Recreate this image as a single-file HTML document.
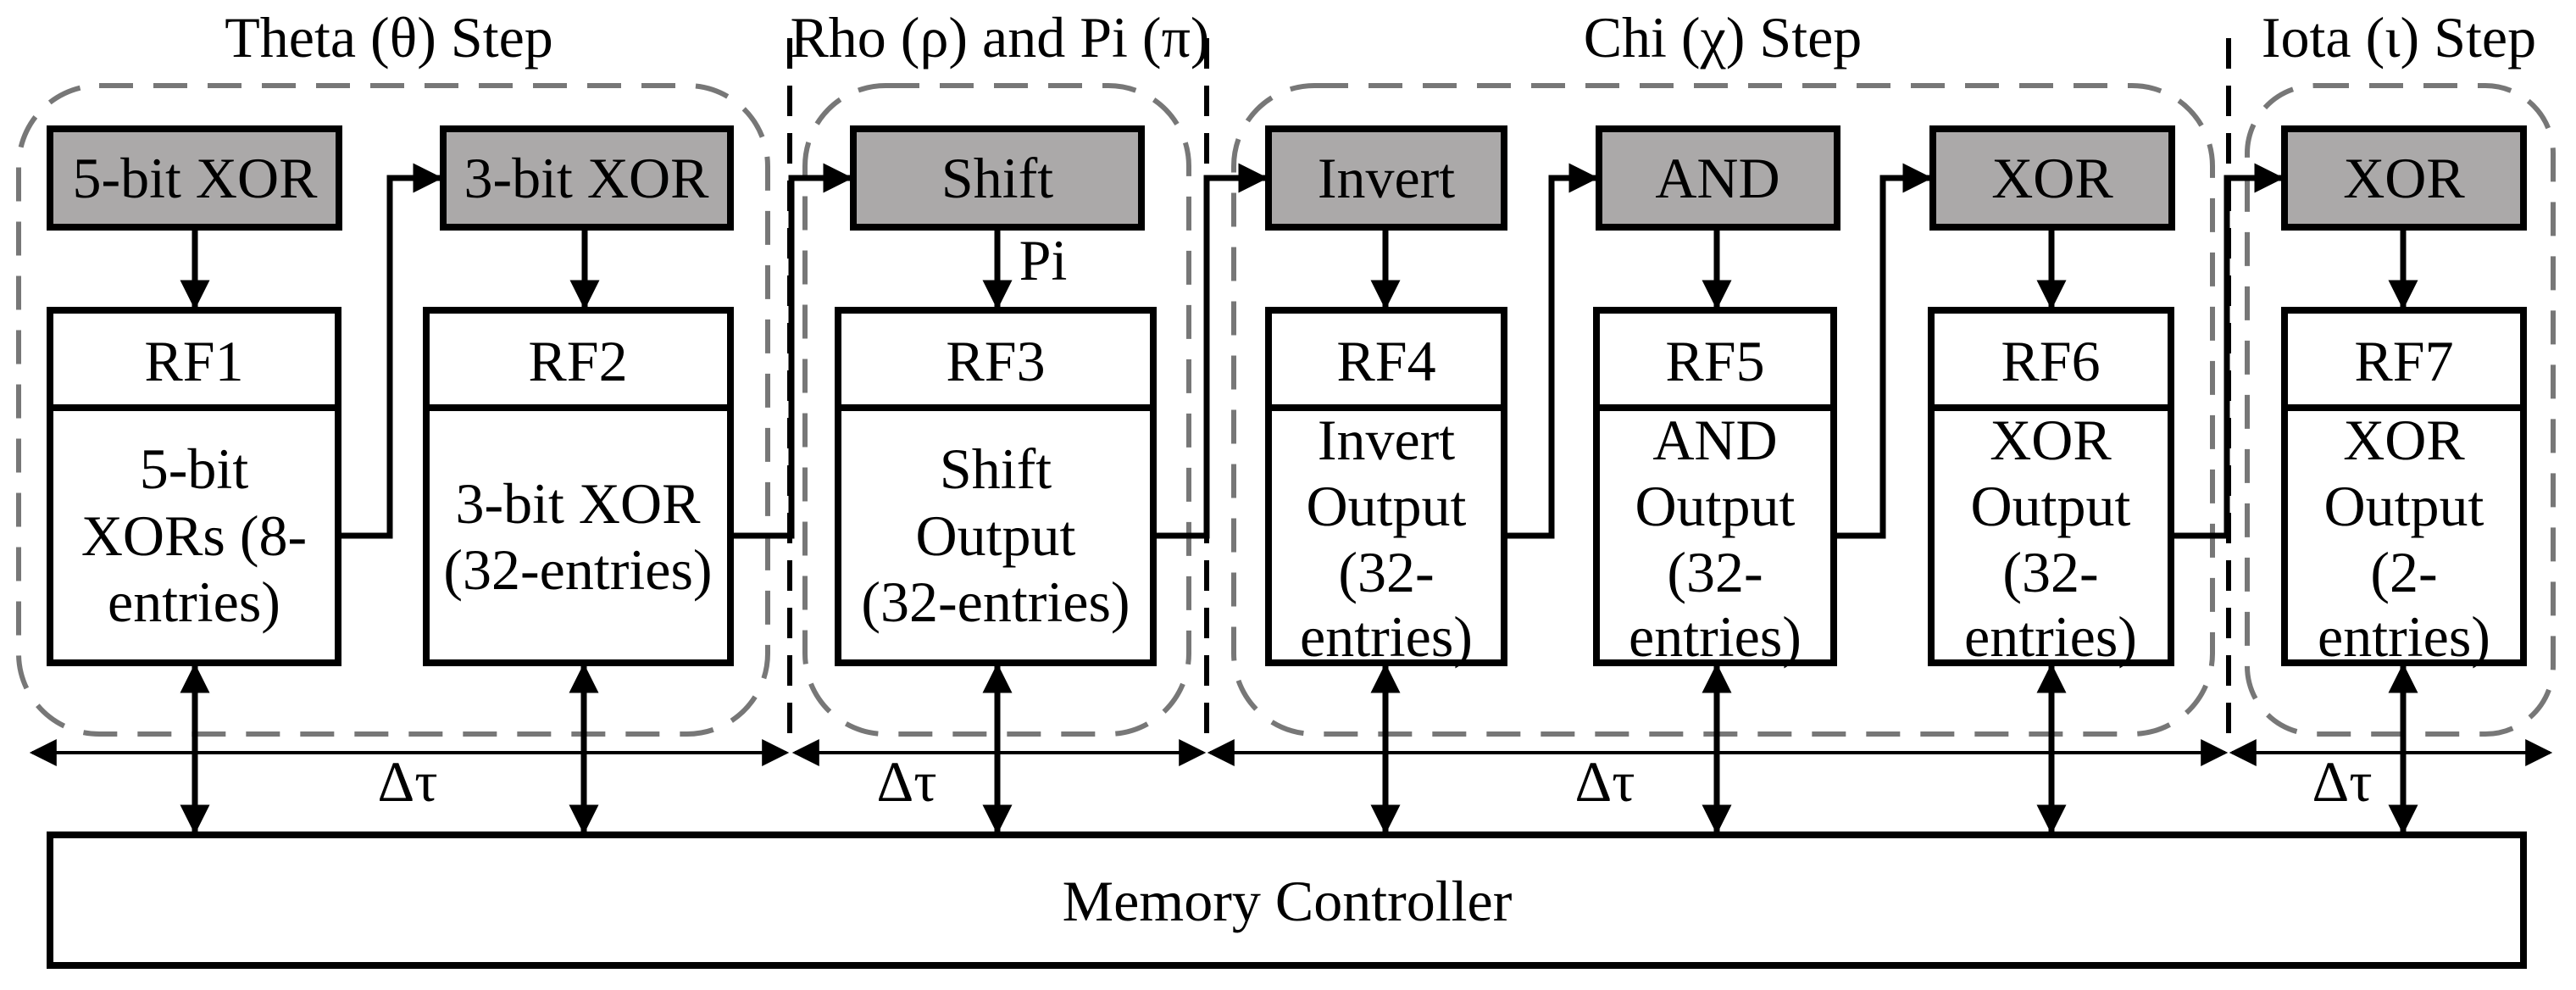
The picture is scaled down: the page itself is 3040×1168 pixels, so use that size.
<!DOCTYPE html>
<html><head><meta charset="utf-8"><style>html,body{margin:0;padding:0;background:#fff}svg{display:block}text{font-family:"Liberation Serif",serif}</style></head>
<body>
<svg width="3040" height="1168" viewBox="0 0 3040 1168" xmlns="http://www.w3.org/2000/svg" font-size="68" text-anchor="middle">
<defs>
<marker id="a" viewBox="0 0 10 10" refX="9" refY="5" markerWidth="5" markerHeight="5" orient="auto-start-reverse" markerUnits="strokeWidth"><path d="M0,0 L10,5 L0,10 z" fill="#000"/></marker>
<marker id="b" viewBox="0 0 10 10" refX="9" refY="5" markerWidth="8" markerHeight="8" orient="auto-start-reverse" markerUnits="strokeWidth"><path d="M0,0 L10,5 L0,10 z" fill="#000"/></marker>
</defs>
<rect width="3040" height="1168" fill="#fff"/>
<text x="459" y="67">Theta (θ) Step</text>
<text x="1180" y="67">Rho (ρ) and Pi (π)</text>
<text x="2033" y="67">Chi (χ) Step</text>
<text x="2831" y="67">Iota (ι) Step</text>
<g fill="none" stroke="#777" stroke-width="6" stroke-dasharray="40 24">
<rect x="22" y="101" width="884" height="765" rx="95"/>
<rect x="950" y="101" width="453" height="765" rx="95"/>
<rect x="1456" y="101" width="1155" height="765" rx="95"/>
<rect x="2652" y="101" width="361" height="765" rx="80"/>
</g>
<g stroke="#000" stroke-width="6" stroke-dasharray="36 20">
<line x1="932" y1="45" x2="932" y2="879"/>
<line x1="1424" y1="45" x2="1424" y2="879"/>
<line x1="2630" y1="45" x2="2630" y2="879"/>
</g>
<g fill="#aba9a9" stroke="#000" stroke-width="8">
<rect x="59" y="152" width="341" height="116"/>
<rect x="523" y="152" width="339" height="116"/>
<rect x="1007" y="152" width="340" height="116"/>
<rect x="1497" y="152" width="278" height="116"/>
<rect x="1887" y="152" width="281" height="116"/>
<rect x="2281" y="152" width="282" height="116"/>
<rect x="2696" y="152" width="282" height="116"/>
</g>
<g>
<text x="230" y="233">5-bit XOR</text>
<text x="692" y="233">3-bit XOR</text>
<text x="1177" y="233">Shift</text>
<text x="1636" y="233">Invert</text>
<text x="2027" y="233">AND</text>
<text x="2422" y="233">XOR</text>
<text x="2837" y="233">XOR</text>
</g>
<g fill="#fff" stroke="#000" stroke-width="8">
<rect x="59" y="366" width="340" height="416"/><line x1="59" y1="481" x2="399" y2="481"/>
<rect x="503" y="366" width="359" height="416"/><line x1="503" y1="481" x2="862" y2="481"/>
<rect x="989" y="366" width="372" height="416"/><line x1="989" y1="481" x2="1361" y2="481"/>
<rect x="1497" y="366" width="278" height="416"/><line x1="1497" y1="481" x2="1775" y2="481"/>
<rect x="1884" y="366" width="280" height="416"/><line x1="1884" y1="481" x2="2164" y2="481"/>
<rect x="2279" y="366" width="283" height="416"/><line x1="2279" y1="481" x2="2562" y2="481"/>
<rect x="2696" y="366" width="282" height="416"/><line x1="2696" y1="481" x2="2978" y2="481"/>
</g>
<g>
<text x="229" y="449">RF1</text>
<text x="682" y="449">RF2</text>
<text x="1175" y="449">RF3</text>
<text x="1636" y="449">RF4</text>
<text x="2024" y="449">RF5</text>
<text x="2420" y="449">RF6</text>
<text x="2837" y="449">RF7</text>
<text x="229" y="576">5-bit</text><text x="229" y="655">XORs (8-</text><text x="229" y="733">entries)</text>
<text x="682" y="617">3-bit XOR</text><text x="682" y="695">(32-entries)</text>
<text x="1175" y="576">Shift</text><text x="1175" y="655">Output</text><text x="1175" y="733">(32-entries)</text>
<text x="1636" y="542">Invert</text><text x="1636" y="620">Output</text><text x="1636" y="698">(32-</text><text x="1636" y="774">entries)</text>
<text x="2024" y="542">AND</text><text x="2024" y="620">Output</text><text x="2024" y="698">(32-</text><text x="2024" y="774">entries)</text>
<text x="2420" y="542">XOR</text><text x="2420" y="620">Output</text><text x="2420" y="698">(32-</text><text x="2420" y="774">entries)</text>
<text x="2837" y="542">XOR</text><text x="2837" y="620">Output</text><text x="2837" y="698">(2-</text><text x="2837" y="774">entries)</text>
<text x="1231" y="330">Pi</text>
</g>
<g stroke="#000" stroke-width="7" marker-end="url(#a)">
<line x1="230" y1="272" x2="230" y2="362"/>
<line x1="690" y1="272" x2="690" y2="362"/>
<line x1="1177" y1="272" x2="1177" y2="362"/>
<line x1="1635" y1="272" x2="1635" y2="362"/>
<line x1="2026" y1="272" x2="2026" y2="362"/>
<line x1="2421" y1="272" x2="2421" y2="362"/>
<line x1="2836" y1="272" x2="2836" y2="362"/>
</g>
<g fill="none" stroke="#000" stroke-width="7" marker-end="url(#a)">
<polyline points="403,632 460,632 460,210 519,210"/>
<polyline points="866,632 934,632 934,210 1003,210"/>
<polyline points="1365,632 1424,632 1424,210 1493,210"/>
<polyline points="1779,632 1831,632 1831,210 1883,210"/>
<polyline points="2168,632 2222,632 2222,210 2277,210"/>
<polyline points="2566,632 2628,632 2628,210 2692,210"/>
</g>
<g stroke="#000" stroke-width="7" marker-start="url(#a)" marker-end="url(#a)">
<line x1="230" y1="786" x2="230" y2="981"/>
<line x1="689" y1="786" x2="689" y2="981"/>
<line x1="1177" y1="786" x2="1177" y2="981"/>
<line x1="1635" y1="786" x2="1635" y2="981"/>
<line x1="2026" y1="786" x2="2026" y2="981"/>
<line x1="2421" y1="786" x2="2421" y2="981"/>
<line x1="2836" y1="786" x2="2836" y2="981"/>
</g>
<g stroke="#000" stroke-width="4" marker-start="url(#b)" marker-end="url(#b)">
<line x1="38" y1="888" x2="928" y2="888"/>
<line x1="938" y1="888" x2="1420" y2="888"/>
<line x1="1428" y1="888" x2="2626" y2="888"/>
<line x1="2634" y1="888" x2="3009" y2="888"/>
</g>
<text x="481" y="945">Δτ</text>
<text x="1070" y="945">Δτ</text>
<text x="1894" y="945">Δτ</text>
<text x="2764" y="945">Δτ</text>
<rect x="59" y="985" width="2919" height="154" fill="#fff" stroke="#000" stroke-width="8"/>
<text x="1519" y="1086">Memory Controller</text>
</svg>
</body></html>
